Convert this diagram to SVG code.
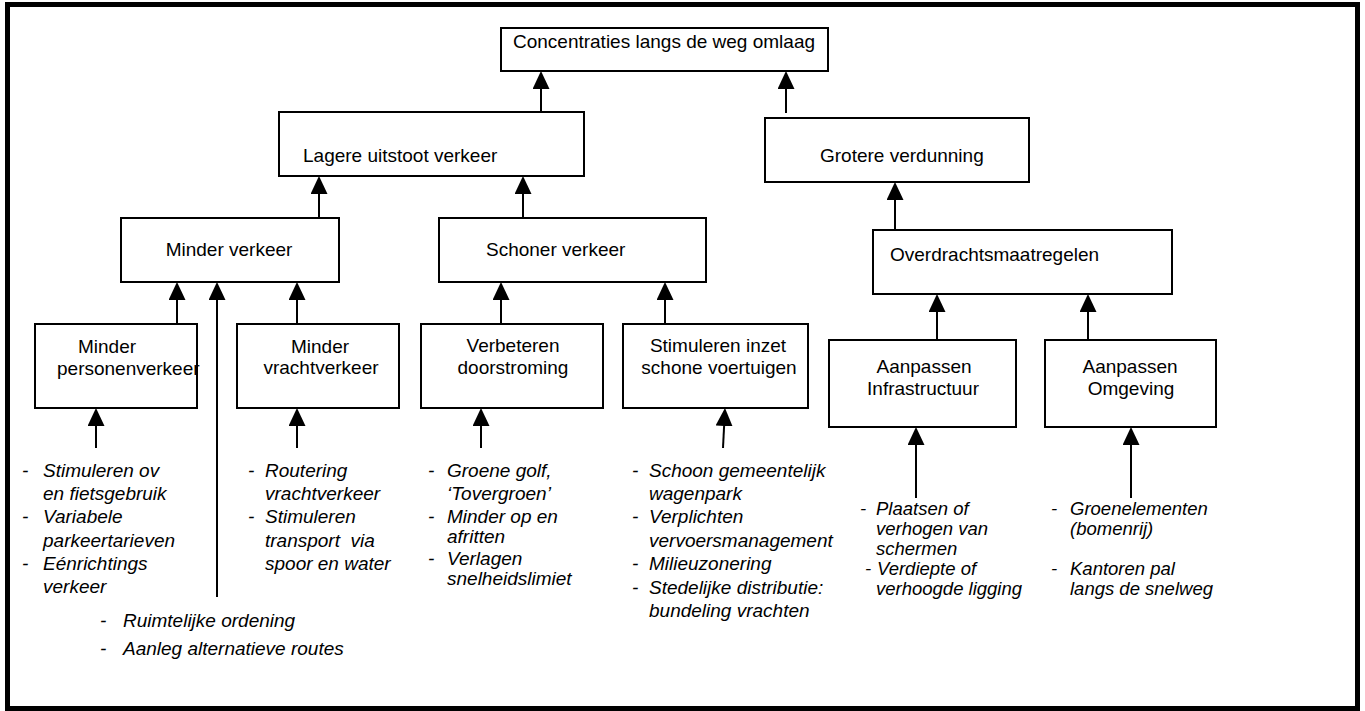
<svg xmlns="http://www.w3.org/2000/svg" width="1365" height="711" viewBox="0 0 1365 711">
<style>
.box{fill:#fff;stroke:#000;stroke-width:2}
.t{font-family:"Liberation Sans",Arial,sans-serif;font-size:19px;fill:#000}
.m{text-anchor:middle}
.i{font-family:"Liberation Sans",Arial,sans-serif;font-size:19px;font-style:italic;fill:#000}
.s{font-size:18.5px}
.c{stroke:#000;stroke-width:2;fill:none;marker-end:url(#ah)}
</style>
<defs>
<marker id="ah" viewBox="0 0 18 17" markerUnits="userSpaceOnUse" markerWidth="18" markerHeight="17" refX="12" refY="8.5" orient="auto">
<path d="M0,0 L18,8.5 L0,17 Z" fill="#000"/>
</marker>
</defs>
<rect x="7.5" y="4.5" width="1350" height="704" fill="#fff" stroke="#000" stroke-width="5"/>

<g id="connectors">
<line class="c" x1="541" y1="112" x2="541" y2="77"/>
<line class="c" x1="786" y1="113" x2="786" y2="77"/>
<line class="c" x1="319" y1="218" x2="319" y2="182"/>
<line class="c" x1="523" y1="218" x2="523" y2="182"/>
<line class="c" x1="895" y1="230" x2="895" y2="188"/>
<line class="c" x1="177" y1="324" x2="177" y2="288"/>
<line class="c" x1="217" y1="597" x2="217" y2="288"/>
<line class="c" x1="297" y1="324" x2="297" y2="288"/>
<line class="c" x1="501" y1="324" x2="501" y2="288"/>
<line class="c" x1="665" y1="324" x2="665" y2="288"/>
<line class="c" x1="937" y1="340" x2="937" y2="300"/>
<line class="c" x1="1088" y1="340" x2="1088" y2="300"/>
<line class="c" x1="96" y1="448" x2="96" y2="414"/>
<line class="c" x1="297" y1="448" x2="297" y2="414"/>
<line class="c" x1="481" y1="448" x2="481" y2="414"/>
<line class="c" x1="723" y1="448" x2="724.7" y2="414"/>
<line class="c" x1="916" y1="498" x2="916" y2="433"/>
<line class="c" x1="1131" y1="498" x2="1131" y2="433"/>
</g>

<g id="concentraties">
<rect class="box" x="501" y="28" width="327" height="43"/>
<text class="t m" x="664" y="48">Concentraties langs de weg omlaag</text>
</g>
<g id="lagere-uitstoot">
<rect class="box" x="279" y="112" width="305" height="64"/>
<text class="t" x="303" y="162">Lagere uitstoot verkeer</text>
</g>
<g id="grotere-verdunning">
<rect class="box" x="765" y="118" width="264" height="64"/>
<text class="t" x="820" y="162">Grotere verdunning</text>
</g>
<g id="overdrachtsmaatregelen">
<rect class="box" x="873" y="230" width="299" height="64"/>
<text class="t" x="890" y="261">Overdrachtsmaatregelen</text>
</g>
<g id="minder-verkeer">
<rect class="box" x="121" y="218" width="218" height="64"/>
<text class="t m" x="229" y="256">Minder verkeer</text>
</g>
<g id="schoner-verkeer">
<rect class="box" x="439" y="218" width="267" height="64"/>
<text class="t" x="486" y="256">Schoner verkeer</text>
</g>
<g id="minder-personenverkeer">
<rect class="box" x="35" y="324" width="162" height="84"/>
<text class="t" x="78" y="353">Minder</text>
<text class="t" x="57" y="375">personenverkeer</text>
</g>
<g id="minder-vrachtverkeer">
<rect class="box" x="237" y="324" width="162" height="84"/>
<text class="t m" x="320" y="353">Minder</text>
<text class="t m" x="321" y="374">vrachtverkeer</text>
</g>
<g id="verbeteren-doorstroming">
<rect class="box" x="421" y="324" width="182" height="84"/>
<text class="t m" x="513" y="352">Verbeteren</text>
<text class="t m" x="513" y="374">doorstroming</text>
</g>
<g id="stimuleren-schone-voertuigen">
<rect class="box" x="623" y="324" width="185" height="84"/>
<text class="t m" x="718" y="352">Stimuleren inzet</text>
<text class="t m" x="719" y="374">schone voertuigen</text>
</g>
<g id="aanpassen-infrastructuur">
<rect class="box" x="829" y="340" width="187" height="87"/>
<text class="t m" x="924" y="373">Aanpassen</text>
<text class="t m" x="923" y="395">Infrastructuur</text>
</g>
<g id="aanpassen-omgeving">
<rect class="box" x="1045" y="340" width="171" height="87"/>
<text class="t m" x="1130" y="373">Aanpassen</text>
<text class="t m" x="1131" y="395">Omgeving</text>
</g>

<g id="list-personen">
<text class="i" x="22" y="477">-</text><text class="i" x="43" y="477">Stimuleren ov</text>
<text class="i" x="43" y="500">en fietsgebruik</text>
<text class="i" x="22" y="523">-</text><text class="i" x="43" y="523">Variabele</text>
<text class="i" x="43" y="547">parkeertarieven</text>
<text class="i" x="22" y="570">-</text><text class="i" x="43" y="570">Eénrichtings</text>
<text class="i" x="43" y="593">verkeer</text>
</g>
<g id="list-vracht">
<text class="i" x="248" y="477">-</text><text class="i" x="265" y="477">Routering</text>
<text class="i" x="265" y="500">vrachtverkeer</text>
<text class="i" x="248" y="523">-</text><text class="i" x="265" y="523">Stimuleren</text>
<text class="i" x="265" y="547" style="white-space:pre">transport  via</text>
<text class="i" x="265" y="570">spoor en water</text>
</g>
<g id="list-minder-verkeer">
<text class="i" x="100" y="627">-</text><text class="i" x="123" y="627">Ruimtelijke ordening</text>
<text class="i" x="100" y="655">-</text><text class="i" x="123" y="655">Aanleg alternatieve routes</text>
</g>
<g id="list-doorstroming">
<text class="i" x="428" y="477">-</text><text class="i" x="447" y="477">Groene golf,</text>
<text class="i" x="447" y="500">‘Tovergroen’</text>
<text class="i" x="428" y="523">-</text><text class="i" x="447" y="523">Minder op en</text>
<text class="i" x="447" y="543">afritten</text>
<text class="i" x="428" y="565">-</text><text class="i" x="447" y="565">Verlagen</text>
<text class="i" x="447" y="585">snelheidslimiet</text>
</g>
<g id="list-voertuigen">
<text class="i" x="632" y="477">-</text><text class="i" x="649" y="477">Schoon gemeentelijk</text>
<text class="i" x="649" y="500">wagenpark</text>
<text class="i" x="632" y="523">-</text><text class="i" x="649" y="523">Verplichten</text>
<text class="i" x="649" y="547">vervoersmanagement</text>
<text class="i" x="632" y="570">-</text><text class="i" x="649" y="570">Milieuzonering</text>
<text class="i" x="632" y="594">-</text><text class="i" x="649" y="594">Stedelijke distributie:</text>
<text class="i" x="649" y="617">bundeling vrachten</text>
</g>
<g id="list-infrastructuur">
<text class="i s" x="860" y="515">-</text><text class="i s" x="876" y="515">Plaatsen of</text>
<text class="i s" x="876" y="535">verhogen van</text>
<text class="i s" x="876" y="555">schermen</text>
<text class="i s" x="865" y="575">-</text><text class="i s" x="877" y="575">Verdiepte of</text>
<text class="i s" x="876" y="595">verhoogde ligging</text>
</g>
<g id="list-omgeving">
<text class="i s" x="1051" y="515">-</text><text class="i s" x="1070" y="515">Groenelementen</text>
<text class="i s" x="1070" y="535">(bomenrij)</text>
<text class="i s" x="1051" y="575">-</text><text class="i s" x="1070" y="575">Kantoren pal</text>
<text class="i s" x="1070" y="595">langs de snelweg</text>
</g>
</svg>
